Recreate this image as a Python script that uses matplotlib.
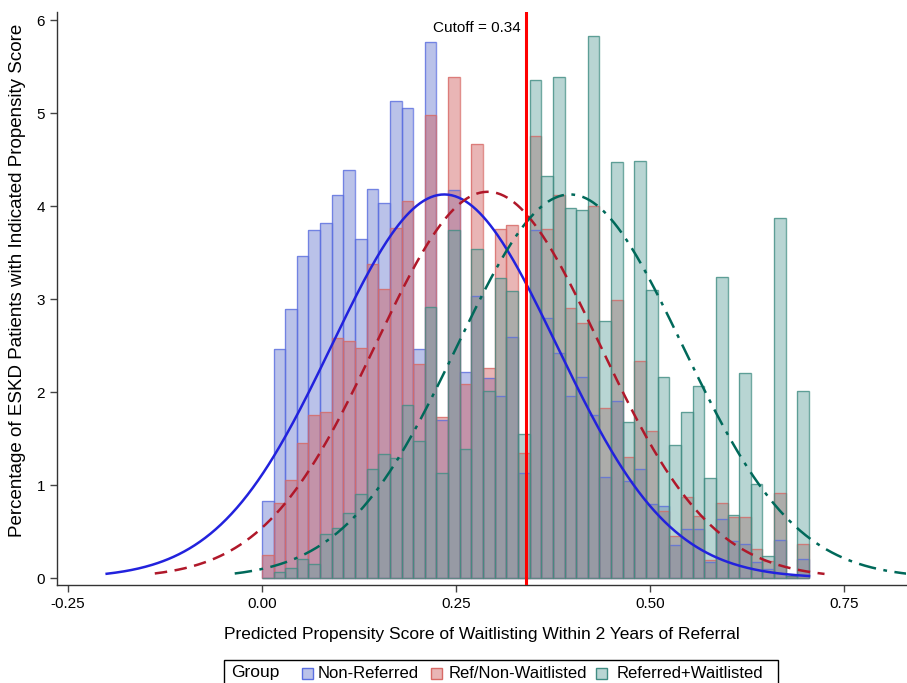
import numpy as np
import matplotlib
matplotlib.use("Agg")
import matplotlib.pyplot as plt
from matplotlib.patches import Rectangle

plt.rcParams['font.family'] = ['Liberation Sans', 'DejaVu Sans']

# ---- data (percent of patients per propensity-score bin, bin width 0.015 from 0.00) ----
bin_width = 0.015
bin_start = 0.0
non_referred = [0.83, 2.46, 2.89, 3.46, 3.74, 3.82, 4.12, 4.39, 3.65, 4.19,
                4.03, 5.13, 5.06, 2.46, 5.77, 1.70, 4.17, 2.22, 3.03, 2.15,
                1.96, 2.59, 1.13, 3.74, 2.80, 2.42, 1.96, 2.16, 1.75, 1.09,
                1.90, 1.04, 1.17, 0.80, 0.78, 0.36, 0.53, 0.53, 0.17, 0.63,
                0.40, 0.37, 0.17, 0.10, 0.41, 0.02, 0.20]
ref_non_waitlisted = [0.25, 0.81, 1.06, 1.45, 1.75, 1.79, 2.58, 2.55, 2.47, 3.38,
                      3.11, 3.77, 4.06, 2.30, 4.98, 1.73, 5.39, 2.09, 4.67, 2.26,
                      3.75, 3.80, 1.35, 4.76, 3.75, 4.12, 2.90, 2.74, 4.00, 1.83,
                      2.99, 1.30, 2.34, 1.58, 0.72, 0.45, 0.87, 0.67, 0.19, 0.81,
                      0.66, 0.66, 0.31, 0.18, 0.91, 0.02, 0.37]
referred_waitlisted = [0.00, 0.07, 0.11, 0.21, 0.15, 0.47, 0.54, 0.70, 0.90, 1.17,
                       1.33, 1.29, 1.86, 1.47, 2.92, 1.13, 3.74, 1.39, 3.54, 2.01,
                       3.23, 3.09, 1.55, 5.36, 4.33, 5.39, 3.98, 3.96, 5.83, 2.77,
                       4.48, 1.68, 4.49, 3.10, 2.16, 1.43, 1.79, 2.07, 1.08, 3.24,
                       0.68, 2.21, 1.01, 0.24, 3.87, 0.02, 2.01]

group_labels = ["Non-Referred", "Ref/Non-Waitlisted", "Referred+Waitlisted"]
# fitted normal densities: mean, sd, plotted range
norm_mean = [0.235, 0.291, 0.397]
norm_sd = [0.145, 0.144, 0.145]
norm_range = [(-0.20, 0.705), (-0.138, 0.725), (-0.035, 0.86)]
cutoff = 0.34

x_ticks = [-0.25, 0.0, 0.25, 0.50, 0.75]
x_tick_labels = ["-0.25", "0.00", "0.25", "0.50", "0.75"]
y_ticks = [0, 1, 2, 3, 4, 5, 6]

# ---- styling ----
fill_colors = ["#6678D0", "#D05B5B", "#62A39E"]
edge_colors = ["#5a6ee0", "#d86a66", "#3f8c82"]
line_colors = ["#2222dd", "#b0182a", "#00695a"]
line_styles = ["-", (0, (5, 3)), (0, (7, 3, 1.5, 3))]

W, H = 907, 683
fig = plt.figure(figsize=(W / 100, H / 100), dpi=100)
ax = fig.add_axes([57 / W, 1 - 585 / H, (906 - 57) / W, (585 - 12) / H])

series = [non_referred, ref_non_waitlisted, referred_waitlisted]
n = len(non_referred)
centers = bin_start + bin_width * (np.arange(n) + 0.5)
for vals, fc, ec in zip(series, fill_colors, edge_colors):
    ax.bar(centers, vals, width=bin_width, color=fc, alpha=0.45,
           edgecolor='none', zorder=2)
    ax.bar(centers, vals, width=bin_width, facecolor='none',
           edgecolor=ec, linewidth=1.0, alpha=0.75, zorder=2.1)

for mu, sd, (a, b), c, ls in zip(norm_mean, norm_sd, norm_range, line_colors, line_styles):
    xs = np.linspace(a, b, 400)
    ys = 100 * bin_width / (sd * np.sqrt(2 * np.pi)) * np.exp(-0.5 * ((xs - mu) / sd) ** 2)
    ax.plot(xs, ys, color=c, linestyle=ls, linewidth=1.8, zorder=3)

ax.axvline(cutoff, color='#ff0000', linewidth=2.2, zorder=4)
ax.text(cutoff - 0.006, 5.92, f"Cutoff = {cutoff:.2f}", ha='right', va='center',
        fontsize=11, color='black', zorder=5)

ax.set_xlim(-0.264, 0.83)
ax.set_ylim(-0.075, 6.09)
ax.set_xticks(x_ticks)
ax.set_xticklabels(x_tick_labels)
ax.set_yticks(y_ticks)
ax.tick_params(axis='both', labelsize=11, length=5, width=1, color='#444444')
for s in ['top', 'right']:
    ax.spines[s].set_visible(False)
for s in ['left', 'bottom']:
    ax.spines[s].set_linewidth(1.0)
    ax.spines[s].set_color('#333333')

ax.set_xlabel("Predicted Propensity Score of Waitlisting Within 2 Years of Referral",
              fontsize=12.5, labelpad=12)
ax.set_ylabel("Percentage of ESKD Patients with Indicated Propensity Score",
              fontsize=13.5)
ax.yaxis.set_label_coords(-0.037, 0.532)

# ---- legend (boxed, inline title) ----
box = Rectangle((224 / W, 0 - 0.01), (778 - 224) / W, (683 - 660) / H + 0.01,
                transform=fig.transFigure, facecolor='white', edgecolor='black',
                linewidth=1.0)
fig.patches.append(box)
ty = 1 - 673 / H
fig.text(231 / W, ty, "Group", fontsize=12.5, va='center', ha='left')
sq_x = [302, 431, 596]
tx_x = [318, 449, 617]
for lab, fc, ec, sx, tx in zip(group_labels, fill_colors, edge_colors, sq_x, tx_x):
    fig.patches.append(Rectangle((sx / W, ty - 5.5 / H), 11 / W, 11 / H,
                                 transform=fig.transFigure, facecolor=fc, alpha=0.45,
                                 edgecolor='none'))
    fig.patches.append(Rectangle((sx / W, ty - 5.5 / H), 11 / W, 11 / H,
                                 transform=fig.transFigure, facecolor='none',
                                 edgecolor=ec, linewidth=1.0))
    fig.text(tx / W, ty, lab, fontsize=12, va='center', ha='left')

fig.savefig("out.png", dpi=100)
